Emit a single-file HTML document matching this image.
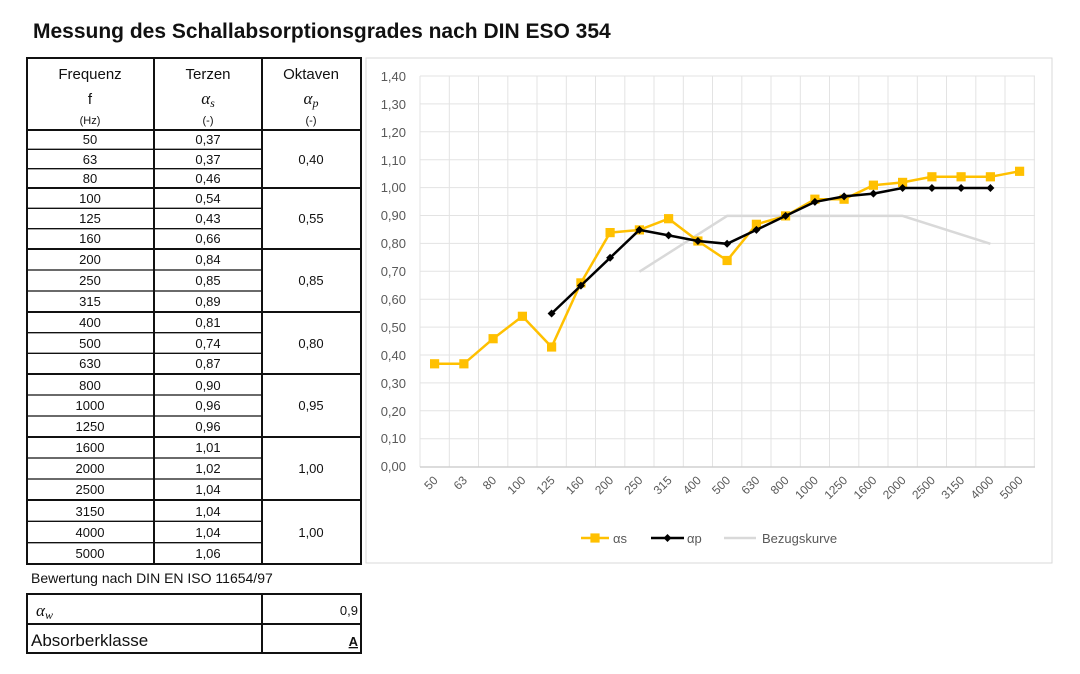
<!DOCTYPE html>
<html><head><meta charset="utf-8"><style>
html,body{margin:0;padding:0;background:#fff;}
svg{display:block;font-family:"Liberation Sans",sans-serif;}
</style></head><body>
<svg width="1080" height="674" viewBox="0 0 1080 674" xmlns="http://www.w3.org/2000/svg">
<text x="33" y="38" font-size="21" font-weight="bold" fill="#111">Messung des Schallabsorptionsgrades nach DIN ESO 354</text>

<!-- Table -->
<g stroke="#111" fill="none">
<rect x="27" y="58" width="334" height="506" stroke-width="2"/>
<line x1="154" y1="58" x2="154" y2="564" stroke-width="2"/>
<line x1="262" y1="58" x2="262" y2="564" stroke-width="2"/>
<g stroke-width="2">
<line x1="27" y1="130" x2="361" y2="130"/>
<line x1="27" y1="188" x2="361" y2="188"/>
<line x1="27" y1="249" x2="361" y2="249"/>
<line x1="27" y1="312" x2="361" y2="312"/>
<line x1="27" y1="374" x2="361" y2="374"/>
<line x1="27" y1="437" x2="361" y2="437"/>
<line x1="27" y1="500" x2="361" y2="500"/>
</g>
<g stroke-width="1.3">
<line x1="27" y1="149.3" x2="262" y2="149.3"/><line x1="27" y1="168.7" x2="262" y2="168.7"/>
<line x1="27" y1="208.3" x2="262" y2="208.3"/><line x1="27" y1="228.7" x2="262" y2="228.7"/>
<line x1="27" y1="270" x2="262" y2="270"/><line x1="27" y1="291" x2="262" y2="291"/>
<line x1="27" y1="332.7" x2="262" y2="332.7"/><line x1="27" y1="353.3" x2="262" y2="353.3"/>
<line x1="27" y1="395" x2="262" y2="395"/><line x1="27" y1="416" x2="262" y2="416"/>
<line x1="27" y1="458" x2="262" y2="458"/><line x1="27" y1="479" x2="262" y2="479"/>
<line x1="27" y1="521.3" x2="262" y2="521.3"/><line x1="27" y1="542.7" x2="262" y2="542.7"/>
</g>
</g>
<g font-size="15" fill="#111" text-anchor="middle">
<text x="90" y="79">Frequenz</text><text x="208" y="79">Terzen</text><text x="311" y="79">Oktaven</text>
<text x="90" y="104">f</text>
<text x="208" y="104" font-family="Liberation Serif,serif" font-style="italic" font-size="17">α<tspan font-size="12" dy="3">s</tspan></text>
<text x="311" y="104" font-family="Liberation Serif,serif" font-style="italic" font-size="17">α<tspan font-size="12" dy="3">p</tspan></text>
</g>
<g font-size="11" fill="#111" text-anchor="middle">
<text x="90" y="124">(Hz)</text><text x="208" y="124">(-)</text><text x="311" y="124">(-)</text>
</g>
<g font-size="13" fill="#111" text-anchor="middle">
<text x="90" y="144">50</text><text x="208" y="144">0,37</text>
<text x="90" y="164">63</text><text x="208" y="164">0,37</text>
<text x="90" y="183">80</text><text x="208" y="183">0,46</text>
<text x="90" y="203">100</text><text x="208" y="203">0,54</text>
<text x="90" y="223">125</text><text x="208" y="223">0,43</text>
<text x="90" y="243">160</text><text x="208" y="243">0,66</text>
<text x="90" y="264">200</text><text x="208" y="264">0,84</text>
<text x="90" y="285">250</text><text x="208" y="285">0,85</text>
<text x="90" y="306">315</text><text x="208" y="306">0,89</text>
<text x="90" y="327">400</text><text x="208" y="327">0,81</text>
<text x="90" y="348">500</text><text x="208" y="348">0,74</text>
<text x="90" y="368">630</text><text x="208" y="368">0,87</text>
<text x="90" y="390">800</text><text x="208" y="390">0,90</text>
<text x="90" y="410">1000</text><text x="208" y="410">0,96</text>
<text x="90" y="431">1250</text><text x="208" y="431">0,96</text>
<text x="90" y="452">1600</text><text x="208" y="452">1,01</text>
<text x="90" y="473">2000</text><text x="208" y="473">1,02</text>
<text x="90" y="494">2500</text><text x="208" y="494">1,04</text>
<text x="90" y="516">3150</text><text x="208" y="516">1,04</text>
<text x="90" y="537">4000</text><text x="208" y="537">1,04</text>
<text x="90" y="558">5000</text><text x="208" y="558">1,06</text>
<text x="311" y="164">0,40</text><text x="311" y="223">0,55</text><text x="311" y="285">0,85</text>
<text x="311" y="348">0,80</text><text x="311" y="410">0,95</text><text x="311" y="473">1,00</text>
<text x="311" y="537">1,00</text>
</g>
<text x="31" y="583" font-size="14" fill="#111">Bewertung nach DIN EN ISO 11654/97</text>
<g stroke="#111" fill="none" stroke-width="2">
<rect x="27" y="594" width="334" height="59"/>
<line x1="27" y1="624" x2="361" y2="624"/>
<line x1="262" y1="594" x2="262" y2="653"/>
</g>
<text x="36" y="616" font-size="17" font-family="Liberation Serif,serif" font-style="italic" fill="#111">α<tspan font-size="12" dy="3">w</tspan></text>
<text x="358" y="615" font-size="13" fill="#111" text-anchor="end">0,9</text>
<text x="31" y="646" font-size="17" fill="#111">Absorberklasse</text>
<text x="358" y="646" font-size="13" font-weight="bold" fill="#111" text-anchor="end" text-decoration="underline">A</text>

<!-- Chart -->
<rect x="366" y="58" width="686" height="505" fill="#fff" stroke="#d9d9d9" stroke-width="1"/>
<g stroke="#e3e3e3" stroke-width="1">
<line x1="420" y1="76" x2="1035" y2="76"/><line x1="420" y1="103.9" x2="1035" y2="103.9"/>
<line x1="420" y1="131.8" x2="1035" y2="131.8"/><line x1="420" y1="159.7" x2="1035" y2="159.7"/>
<line x1="420" y1="187.6" x2="1035" y2="187.6"/><line x1="420" y1="215.5" x2="1035" y2="215.5"/>
<line x1="420" y1="243.4" x2="1035" y2="243.4"/><line x1="420" y1="271.3" x2="1035" y2="271.3"/>
<line x1="420" y1="299.2" x2="1035" y2="299.2"/><line x1="420" y1="327.1" x2="1035" y2="327.1"/>
<line x1="420" y1="355" x2="1035" y2="355"/><line x1="420" y1="382.9" x2="1035" y2="382.9"/>
<line x1="420" y1="410.8" x2="1035" y2="410.8"/><line x1="420" y1="438.7" x2="1035" y2="438.7"/>
<line x1="420" y1="76" x2="420" y2="467"/><line x1="449.3" y1="76" x2="449.3" y2="467"/>
<line x1="478.5" y1="76" x2="478.5" y2="467"/><line x1="507.8" y1="76" x2="507.8" y2="467"/>
<line x1="537" y1="76" x2="537" y2="467"/><line x1="566.3" y1="76" x2="566.3" y2="467"/>
<line x1="595.5" y1="76" x2="595.5" y2="467"/><line x1="624.8" y1="76" x2="624.8" y2="467"/>
<line x1="654" y1="76" x2="654" y2="467"/><line x1="683.3" y1="76" x2="683.3" y2="467"/>
<line x1="712.5" y1="76" x2="712.5" y2="467"/><line x1="741.8" y1="76" x2="741.8" y2="467"/>
<line x1="771" y1="76" x2="771" y2="467"/><line x1="800.3" y1="76" x2="800.3" y2="467"/>
<line x1="829.5" y1="76" x2="829.5" y2="467"/><line x1="858.8" y1="76" x2="858.8" y2="467"/>
<line x1="888" y1="76" x2="888" y2="467"/><line x1="917.3" y1="76" x2="917.3" y2="467"/>
<line x1="946.5" y1="76" x2="946.5" y2="467"/><line x1="975.8" y1="76" x2="975.8" y2="467"/>
<line x1="1005" y1="76" x2="1005" y2="467"/><line x1="1034.3" y1="76" x2="1034.3" y2="467"/>
</g>
<line x1="420" y1="467" x2="1035" y2="467" stroke="#d0d0d0" stroke-width="1.5"/>
<g font-size="13" fill="#595959" text-anchor="end">
<text x="406" y="81">1,40</text><text x="406" y="109">1,30</text><text x="406" y="137">1,20</text>
<text x="406" y="165">1,10</text><text x="406" y="192">1,00</text><text x="406" y="220">0,90</text>
<text x="406" y="248">0,80</text><text x="406" y="276">0,70</text><text x="406" y="304">0,60</text>
<text x="406" y="332">0,50</text><text x="406" y="360">0,40</text><text x="406" y="388">0,30</text>
<text x="406" y="416">0,20</text><text x="406" y="443">0,10</text><text x="406" y="471">0,00</text>
</g>
<g font-size="12" fill="#595959" text-anchor="end">
<text transform="translate(438.6,481) rotate(-45)">50</text>
<text transform="translate(467.9,481) rotate(-45)">63</text>
<text transform="translate(497.1,481) rotate(-45)">80</text>
<text transform="translate(526.4,481) rotate(-45)">100</text>
<text transform="translate(555.6,481) rotate(-45)">125</text>
<text transform="translate(584.9,481) rotate(-45)">160</text>
<text transform="translate(614.1,481) rotate(-45)">200</text>
<text transform="translate(643.4,481) rotate(-45)">250</text>
<text transform="translate(672.6,481) rotate(-45)">315</text>
<text transform="translate(701.9,481) rotate(-45)">400</text>
<text transform="translate(731.1,481) rotate(-45)">500</text>
<text transform="translate(760.4,481) rotate(-45)">630</text>
<text transform="translate(789.6,481) rotate(-45)">800</text>
<text transform="translate(818.9,481) rotate(-45)">1000</text>
<text transform="translate(848.1,481) rotate(-45)">1250</text>
<text transform="translate(877.4,481) rotate(-45)">1600</text>
<text transform="translate(906.6,481) rotate(-45)">2000</text>
<text transform="translate(935.9,481) rotate(-45)">2500</text>
<text transform="translate(965.1,481) rotate(-45)">3150</text>
<text transform="translate(994.4,481) rotate(-45)">4000</text>
<text transform="translate(1023.6,481) rotate(-45)">5000</text>
</g>
<!-- Bezugskurve -->
<polyline fill="none" stroke="#d9d9d9" stroke-width="2.5" points="639.4,271.7 727.1,215.9 902.6,215.9 990.4,243.8"/>
<!-- alpha s -->
<polyline fill="none" stroke="#ffc000" stroke-width="2.5" points="434.6,363.8 463.9,363.8 493.1,338.7 522.4,316.3 551.6,347 580.9,282.9 610.1,232.6 639.4,229.9 668.6,218.7 697.9,241 727.1,260.5 756.4,224.3 785.6,215.9 814.9,199.2 844.1,199.2 873.4,185.2 902.6,182.4 931.9,176.8 961.1,176.8 990.4,176.8 1019.6,171.3"/>
<g fill="#ffc000">
<rect x="430" y="359.2" width="9.2" height="9.2"/><rect x="459.3" y="359.2" width="9.2" height="9.2"/>
<rect x="488.5" y="334.1" width="9.2" height="9.2"/><rect x="517.8" y="311.7" width="9.2" height="9.2"/>
<rect x="547" y="342.4" width="9.2" height="9.2"/><rect x="576.3" y="278.3" width="9.2" height="9.2"/>
<rect x="605.5" y="228" width="9.2" height="9.2"/><rect x="634.8" y="225.3" width="9.2" height="9.2"/>
<rect x="664" y="214.1" width="9.2" height="9.2"/><rect x="693.3" y="236.4" width="9.2" height="9.2"/>
<rect x="722.5" y="255.9" width="9.2" height="9.2"/><rect x="751.8" y="219.7" width="9.2" height="9.2"/>
<rect x="781" y="211.3" width="9.2" height="9.2"/><rect x="810.3" y="194.6" width="9.2" height="9.2"/>
<rect x="839.5" y="194.6" width="9.2" height="9.2"/><rect x="868.8" y="180.6" width="9.2" height="9.2"/>
<rect x="898" y="177.8" width="9.2" height="9.2"/><rect x="927.3" y="172.2" width="9.2" height="9.2"/>
<rect x="956.5" y="172.2" width="9.2" height="9.2"/><rect x="985.8" y="172.2" width="9.2" height="9.2"/>
<rect x="1015" y="166.7" width="9.2" height="9.2"/>
</g>
<!-- alpha p -->
<polyline fill="none" stroke="#000" stroke-width="2.5" points="551.6,313.5 580.9,285.6 610.1,257.8 639.4,229.9 668.6,235.4 697.9,241 727.1,243.8 756.4,229.9 785.6,215.9 814.9,201.9 844.1,196.4 873.4,193.6 902.6,188 931.9,188 961.1,188 990.4,188"/>
<g fill="#000">
<path d="M551.6,309.5l4,4l-4,4l-4,-4z"/><path d="M580.9,281.6l4,4l-4,4l-4,-4z"/>
<path d="M610.1,253.8l4,4l-4,4l-4,-4z"/><path d="M639.4,225.9l4,4l-4,4l-4,-4z"/>
<path d="M668.6,231.4l4,4l-4,4l-4,-4z"/><path d="M697.9,237l4,4l-4,4l-4,-4z"/>
<path d="M727.1,239.8l4,4l-4,4l-4,-4z"/><path d="M756.4,225.9l4,4l-4,4l-4,-4z"/>
<path d="M785.6,211.9l4,4l-4,4l-4,-4z"/><path d="M814.9,197.9l4,4l-4,4l-4,-4z"/>
<path d="M844.1,192.4l4,4l-4,4l-4,-4z"/><path d="M873.4,189.6l4,4l-4,4l-4,-4z"/>
<path d="M902.6,184l4,4l-4,4l-4,-4z"/><path d="M931.9,184l4,4l-4,4l-4,-4z"/>
<path d="M961.1,184l4,4l-4,4l-4,-4z"/><path d="M990.4,184l4,4l-4,4l-4,-4z"/>
</g>
<!-- Legend -->
<line x1="581" y1="538" x2="609" y2="538" stroke="#ffc000" stroke-width="2.5"/>
<rect x="590.4" y="533.4" width="9.2" height="9.2" fill="#ffc000"/>
<text x="613" y="543" font-size="13" fill="#595959">αs</text>
<line x1="651" y1="538" x2="684" y2="538" stroke="#000" stroke-width="2.5"/>
<path d="M667.5,534l4,4l-4,4l-4,-4z" fill="#000"/>
<text x="687" y="543" font-size="13" fill="#595959">αp</text>
<line x1="724" y1="538" x2="756" y2="538" stroke="#d9d9d9" stroke-width="2.5"/>
<text x="762" y="543" font-size="13" fill="#595959">Bezugskurve</text>
</svg>
</body></html>
